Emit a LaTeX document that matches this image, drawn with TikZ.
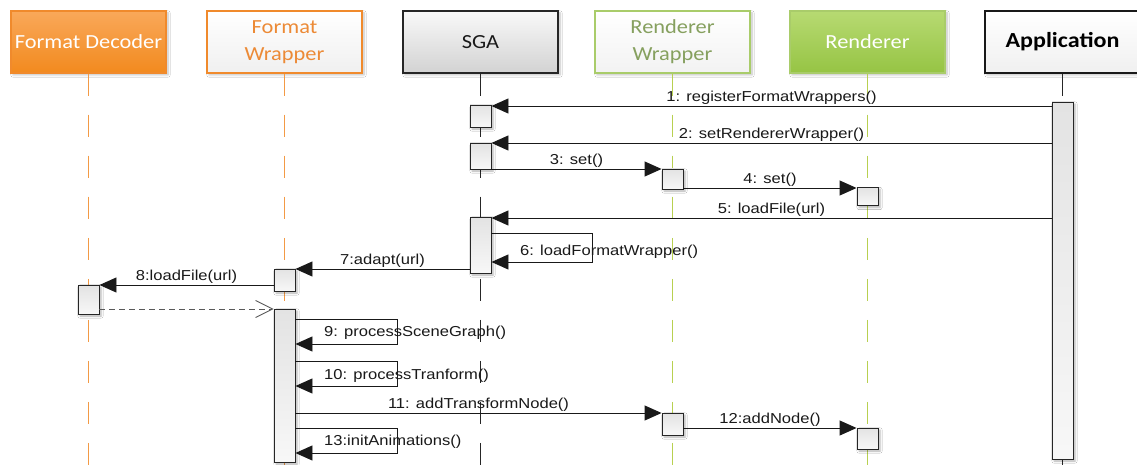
\documentclass[tikz,border=0pt]{standalone}
\usepackage{fontspec}
\setmainfont{Liberation Sans}
\newfontfamily\labfont[FakeStretch=1.15]{Liberation Sans}
\newfontfamily\headfont[FakeStretch=1.12]{Carlito}
\usetikzlibrary{arrows.meta,shadows.blur}
\definecolor{orB}{HTML}{F08A2C}
\definecolor{orTop}{HTML}{F9A85A}
\definecolor{orBot}{HTML}{F28A1E}
\definecolor{orTxt}{HTML}{EC8A36}
\definecolor{orLife}{HTML}{F39A45}
\definecolor{grB}{HTML}{A9CC6A}
\definecolor{grTop}{HTML}{B7DA72}
\definecolor{grBot}{HTML}{96C444}
\definecolor{grTxt}{HTML}{86A05F}
\definecolor{grLife}{HTML}{B8D050}
\tikzset{
  head/.style={draw, line width=1.5pt, minimum width=155pt, minimum height=62pt,
    inner sep=0pt, align=center, font=\headfont\fontsize{20}{27}\selectfont,
    blur shadow={shadow xshift=2pt, shadow yshift=-2pt, shadow blur steps=6, shadow opacity=25}},
  life/.style={line width=1.6pt, dash pattern=on 22pt off 19pt},
  act/.style={draw=black!85, line width=0.9pt, top color=gray!22, bottom color=gray!6,
    minimum width=21pt, inner sep=0pt,
    blur shadow={shadow xshift=2pt, shadow yshift=-2pt, shadow blur steps=5, shadow opacity=30}},
  msg/.style={draw=black!90, line width=0.9pt, -{Triangle[length=17pt,width=15pt]}},
  ret/.style={draw=black!65, line width=0.9pt, dash pattern=on 6pt off 4pt,
    -{Straight Barb[length=17pt,width=17pt,line width=0.9pt]}},
  lbl/.style={font=\labfont\fontsize{14.4}{16}\selectfont, text=black!90, inner sep=1pt}
}
\begin{document}
\begin{tikzpicture}[x=1pt,y=-1pt]
\useasboundingbox (0,0) rectangle (1137,465);
\fill[white] (0,0) rectangle (1137,465);

% headers
\node[head, draw=orB, top color=orTop, bottom color=orBot, text=white] (fd) at (88.5,42) {Format Decoder};
\node[head, draw=orB, top color=white, bottom color=gray!12, text=orTxt] (fw) at (284.5,42) {Format\\Wrapper};
\node[head, draw=black!85, top color=gray!5, bottom color=gray!35, text=black!90] (sga) at (480.5,42) {SGA};
\node[head, draw=grB, top color=white, bottom color=gray!10, text=grTxt] (rw) at (672.5,42) {Renderer\\Wrapper};
\node[head, draw=grB, top color=grTop, bottom color=grBot, text=white] (rd) at (867.5,42) {Renderer};
\node[head, draw=black!90, top color=white, bottom color=gray!12, text=black,
  font=\headfont\bfseries\fontsize{21.5}{27}\selectfont] (app) at (1062.5,42) {Application};

% lifelines
\draw[life, orLife] (fd.south) -- (fd.south |- 0,465);
\draw[life, orLife] (fw.south) -- (fw.south |- 0,465);
\draw[life, black!85] (sga.south) -- (sga.south |- 0,465);
\draw[life, grLife] (rw.south) -- (rw.south |- 0,465);
\draw[life, grLife] (rd.south) -- (rd.south |- 0,465);
\draw[life, black!85] (app.south) -- (app.south |- 0,465);

% activations
\node[act, minimum height=357pt] (aApp) at (1062.5,280.5) {};
\node[act, minimum height=22pt] (s1) at (480.5,116) {};
\node[act, minimum height=26pt] (s2) at (480.5,156) {};
\node[act, minimum height=20pt] (w3) at (672.5,179) {};
\node[act, minimum height=18pt] (r4) at (867.5,196.5) {};
\node[act, minimum height=56pt] (s5) at (480.5,245) {};
\node[act, minimum height=22pt] (f7) at (284.5,280) {};
\node[act, minimum height=29pt] (d8) at (88.5,299.5) {};
\node[act, minimum height=153pt] (fL) at (284.5,385.5) {};
\node[act, minimum height=22pt] (w11) at (672.5,424) {};
\node[act, minimum height=21pt] (r12) at (867.5,438.5) {};

% messages
\draw[msg] (aApp.west |- 0,106) -- node[lbl, above] {1: registerFormatWrappers()} (s1.east |- 0,106);
\draw[msg] (aApp.west |- 0,143) -- node[lbl, above] {2: setRendererWrapper()} (s2.east |- 0,143);
\draw[msg] (s2.east |- 0,169) -- node[lbl, above] {3: set()} (w3.west |- 0,169);
\draw[msg] (w3.east |- 0,188) -- node[lbl, above] {4: set()} (r4.west |- 0,188);
\draw[msg] (aApp.west |- 0,218) -- node[lbl, above] {5: loadFile(url)} (s5.east |- 0,218);
\draw[msg] (s5.east |- 0,233) -- ++(101,0) |- (s5.east |- 0,262);
\node[lbl, anchor=west] (l6) at (519,252) {6: loadFormatWrapper()};
\draw[msg] (s5.west |- 0,269) -- node[lbl, above] {7:adapt(url)} (f7.east |- 0,269);
\draw[msg] (f7.west |- 0,285) -- node[lbl, above] {8:loadFile(url)} (d8.east |- 0,285);
\draw[ret] (d8.east |- 0,309) -- (fL.west |- 0,309);
\draw[msg] (fL.east |- 0,319) -- ++(102,0) |- (fL.east |- 0,344);
\node[lbl, anchor=west] (l9) at (323,333) {9: processSceneGraph()};
\draw[msg] (fL.east |- 0,361) -- ++(102,0) |- (fL.east |- 0,386);
\node[lbl, anchor=west] (l10) at (323,376) {10: processTranform()};
\draw[msg] (fL.east |- 0,413) -- node[lbl, above] {11: addTransformNode()} (w11.west |- 0,413);
\draw[msg] (w11.east |- 0,428) -- node[lbl, above] {12:addNode()} (r12.west |- 0,428);
\draw[msg] (fL.east |- 0,428) -- ++(102,0) |- (fL.east |- 0,453);
\node[lbl, anchor=west] (l13) at (323,442) {13:initAnimations()};
\end{tikzpicture}
\end{document}
